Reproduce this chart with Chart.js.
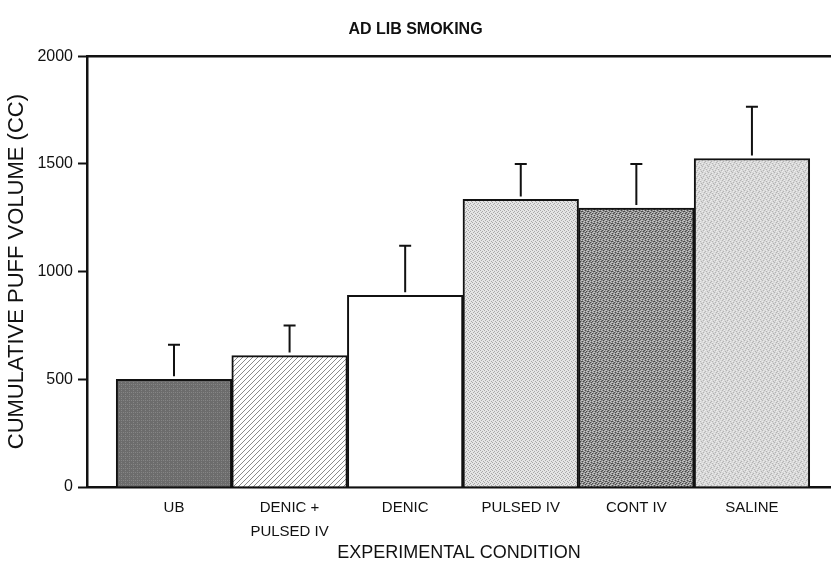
<!DOCTYPE html>
<html>
<head>
<meta charset="utf-8">
<script src="https://cdn.jsdelivr.net/npm/chart.js@4/dist/chart.umd.min.js"></script>
<style>
  html, body { margin: 0; padding: 0; background: #fff; }
  #wrap { width: 831px; height: 566px; }
</style>
</head>
<body>
<div id="wrap"><canvas id="chart"></canvas></div>
<script>
// data
const conditions = ["UB", ["DENIC +", "PULSED IV"], "DENIC", "PULSED IV", "CONT IV", "SALINE"];
const puffVolume = [500, 610, 890, 1335, 1295, 1525];
const puffSem = [160, 140, 230, 165, 205, 240];
const yTicks = [0, 500, 1000, 1500, 2000];

// small tiles used as bar fills
function makeTile(size, draw) {
  const c = document.createElement("canvas");
  c.width = size;
  c.height = size;
  const g = c.getContext("2d");
  draw(g, size);
  return g.createPattern(c, "repeat");
}

function pixels(g, rows, colors) {
  rows.forEach((row, y) => {
    for (let x = 0; x < row.length; x++) {
      g.fillStyle = colors[row[x]];
      g.fillRect(x, y, 1, 1);
    }
  });
}

const fills = [
  // UB: dark grey, fine grid of lighter dots
  makeTile(4, (g) => pixels(g, ["abab", "aaaa", "abaa", "aaaa"], { a: "#6c6c6c", b: "#858585" })),
  // DENIC + PULSED IV: diagonal hatch
  makeTile(5, (g, s) => {
    g.fillStyle = "#fff";
    g.fillRect(0, 0, s, s);
    g.strokeStyle = "#8a8a8a";
    g.lineWidth = 1;
    g.beginPath();
    g.moveTo(-1, s + 1); g.lineTo(s + 1, -1);
    g.moveTo(-1, 1); g.lineTo(1, -1);
    g.moveTo(s - 1, s + 1); g.lineTo(s + 1, s - 1);
    g.stroke();
  }),
  // DENIC: open bar
  "#ffffff",
  // PULSED IV: light checker
  makeTile(4, (g) => pixels(g, ["abaa", "aaab", "baaa", "aaba"], { a: "#e4e4e4", b: "#a8a8a8" })),
  // CONT IV: dark speckle
  makeTile(6, (g) => pixels(g, ["acabac", "bacaab", "cabaca", "abacba", "caabac", "bacaca"], { a: "#8e8e8e", b: "#4a4a4a", c: "#c4c4c4" })),
  // SALINE: light stipple
  makeTile(6, (g) => pixels(g, ["aabaca", "caaaba", "abacaa", "aacaab", "baaaca", "acabaa"], { a: "#d8d8d8", b: "#b4b4b4", c: "#ececec" }))
];

// error bars (upper only) and the top frame line
const errorBars = {
  id: "errorBars",
  afterDatasetsDraw(chart) {
    const { ctx, chartArea, scales } = chart;
    const meta = chart.getDatasetMeta(0);
    ctx.save();
    ctx.strokeStyle = "#111";
    ctx.lineWidth = 2;
    meta.data.forEach((bar, i) => {
      const yTop = scales.y.getPixelForValue(puffVolume[i] + puffSem[i]);
      ctx.beginPath();
      ctx.moveTo(bar.x, bar.y - 3);
      ctx.lineTo(bar.x, yTop);
      ctx.moveTo(bar.x - 6, yTop);
      ctx.lineTo(bar.x + 6, yTop);
      ctx.stroke();
    });
    ctx.lineWidth = 2.5;
    ctx.beginPath();
    ctx.moveTo(chartArea.left, chartArea.top);
    ctx.lineTo(chartArea.right, chartArea.top);
    ctx.stroke();
    ctx.restore();
  }
};

const font = "'Liberation Sans', Arial, sans-serif";

new Chart(document.getElementById("chart"), {
  type: "bar",
  data: {
    datasets: [
      {
        data: puffVolume.map((v, i) => ({ x: i, y: v })),
        backgroundColor: fills,
        borderColor: "#111",
        borderWidth: 2,
        borderSkipped: "start",
        barPercentage: 1,
        categoryPercentage: 1
      }
    ]
  },
  options: {
    responsive: true,
    maintainAspectRatio: false,
    animation: false,
    events: [],
    layout: { padding: { left: 0, right: 0, top: 0, bottom: 0 } },
    scales: {
      x: {
        type: "linear",
        offset: false,
        min: -0.7526,
        max: 5.684,
        afterBuildTicks: (scale) => {
          scale.ticks = conditions.map((_, i) => ({ value: i }));
        },
        afterFit: (scale) => {
          scale.height = 79;
        },
        grid: { display: false, drawTicks: false },
        border: { display: true, color: "#111", width: 2.5 },
        ticks: {
          color: "#111",
          padding: 9,
          maxRotation: 0,
          autoSkip: false,
          font: { family: font, size: 15, lineHeight: 1.6 },
          callback: (v) => conditions[v]
        },
        title: {
          display: true,
          text: "EXPERIMENTAL CONDITION",
          color: "#111",
          font: { family: font, size: 18 },
          padding: { top: 0, bottom: 2 }
        }
      },
      y: {
        min: 0,
        max: 2000,
        afterBuildTicks: (scale) => {
          scale.ticks = yTicks.map((v) => ({ value: v }));
        },
        afterFit: (scale) => {
          scale.width = 87;
        },
        grid: { display: true, drawOnChartArea: false, tickLength: 9, tickWidth: 2, tickColor: "#111" },
        border: { display: true, color: "#111", width: 2.5 },
        ticks: {
          color: "#111",
          padding: 5,
          font: { family: font, size: 16 },
          callback: (v) => String(v)
        },
        title: {
          display: true,
          text: "CUMULATIVE PUFF VOLUME (CC)",
          color: "#111",
          font: { family: font, size: 22 },
          padding: { top: 4, bottom: 0 }
        }
      }
    },
    plugins: {
      legend: { display: false },
      tooltip: { enabled: false },
      title: {
        display: true,
        text: "AD LIB SMOKING",
        color: "#111",
        font: { family: font, size: 16, weight: "bold" },
        padding: { top: 20, bottom: 17 }
      }
    }
  },
  plugins: [errorBars]
});
</script>
</body>
</html>
